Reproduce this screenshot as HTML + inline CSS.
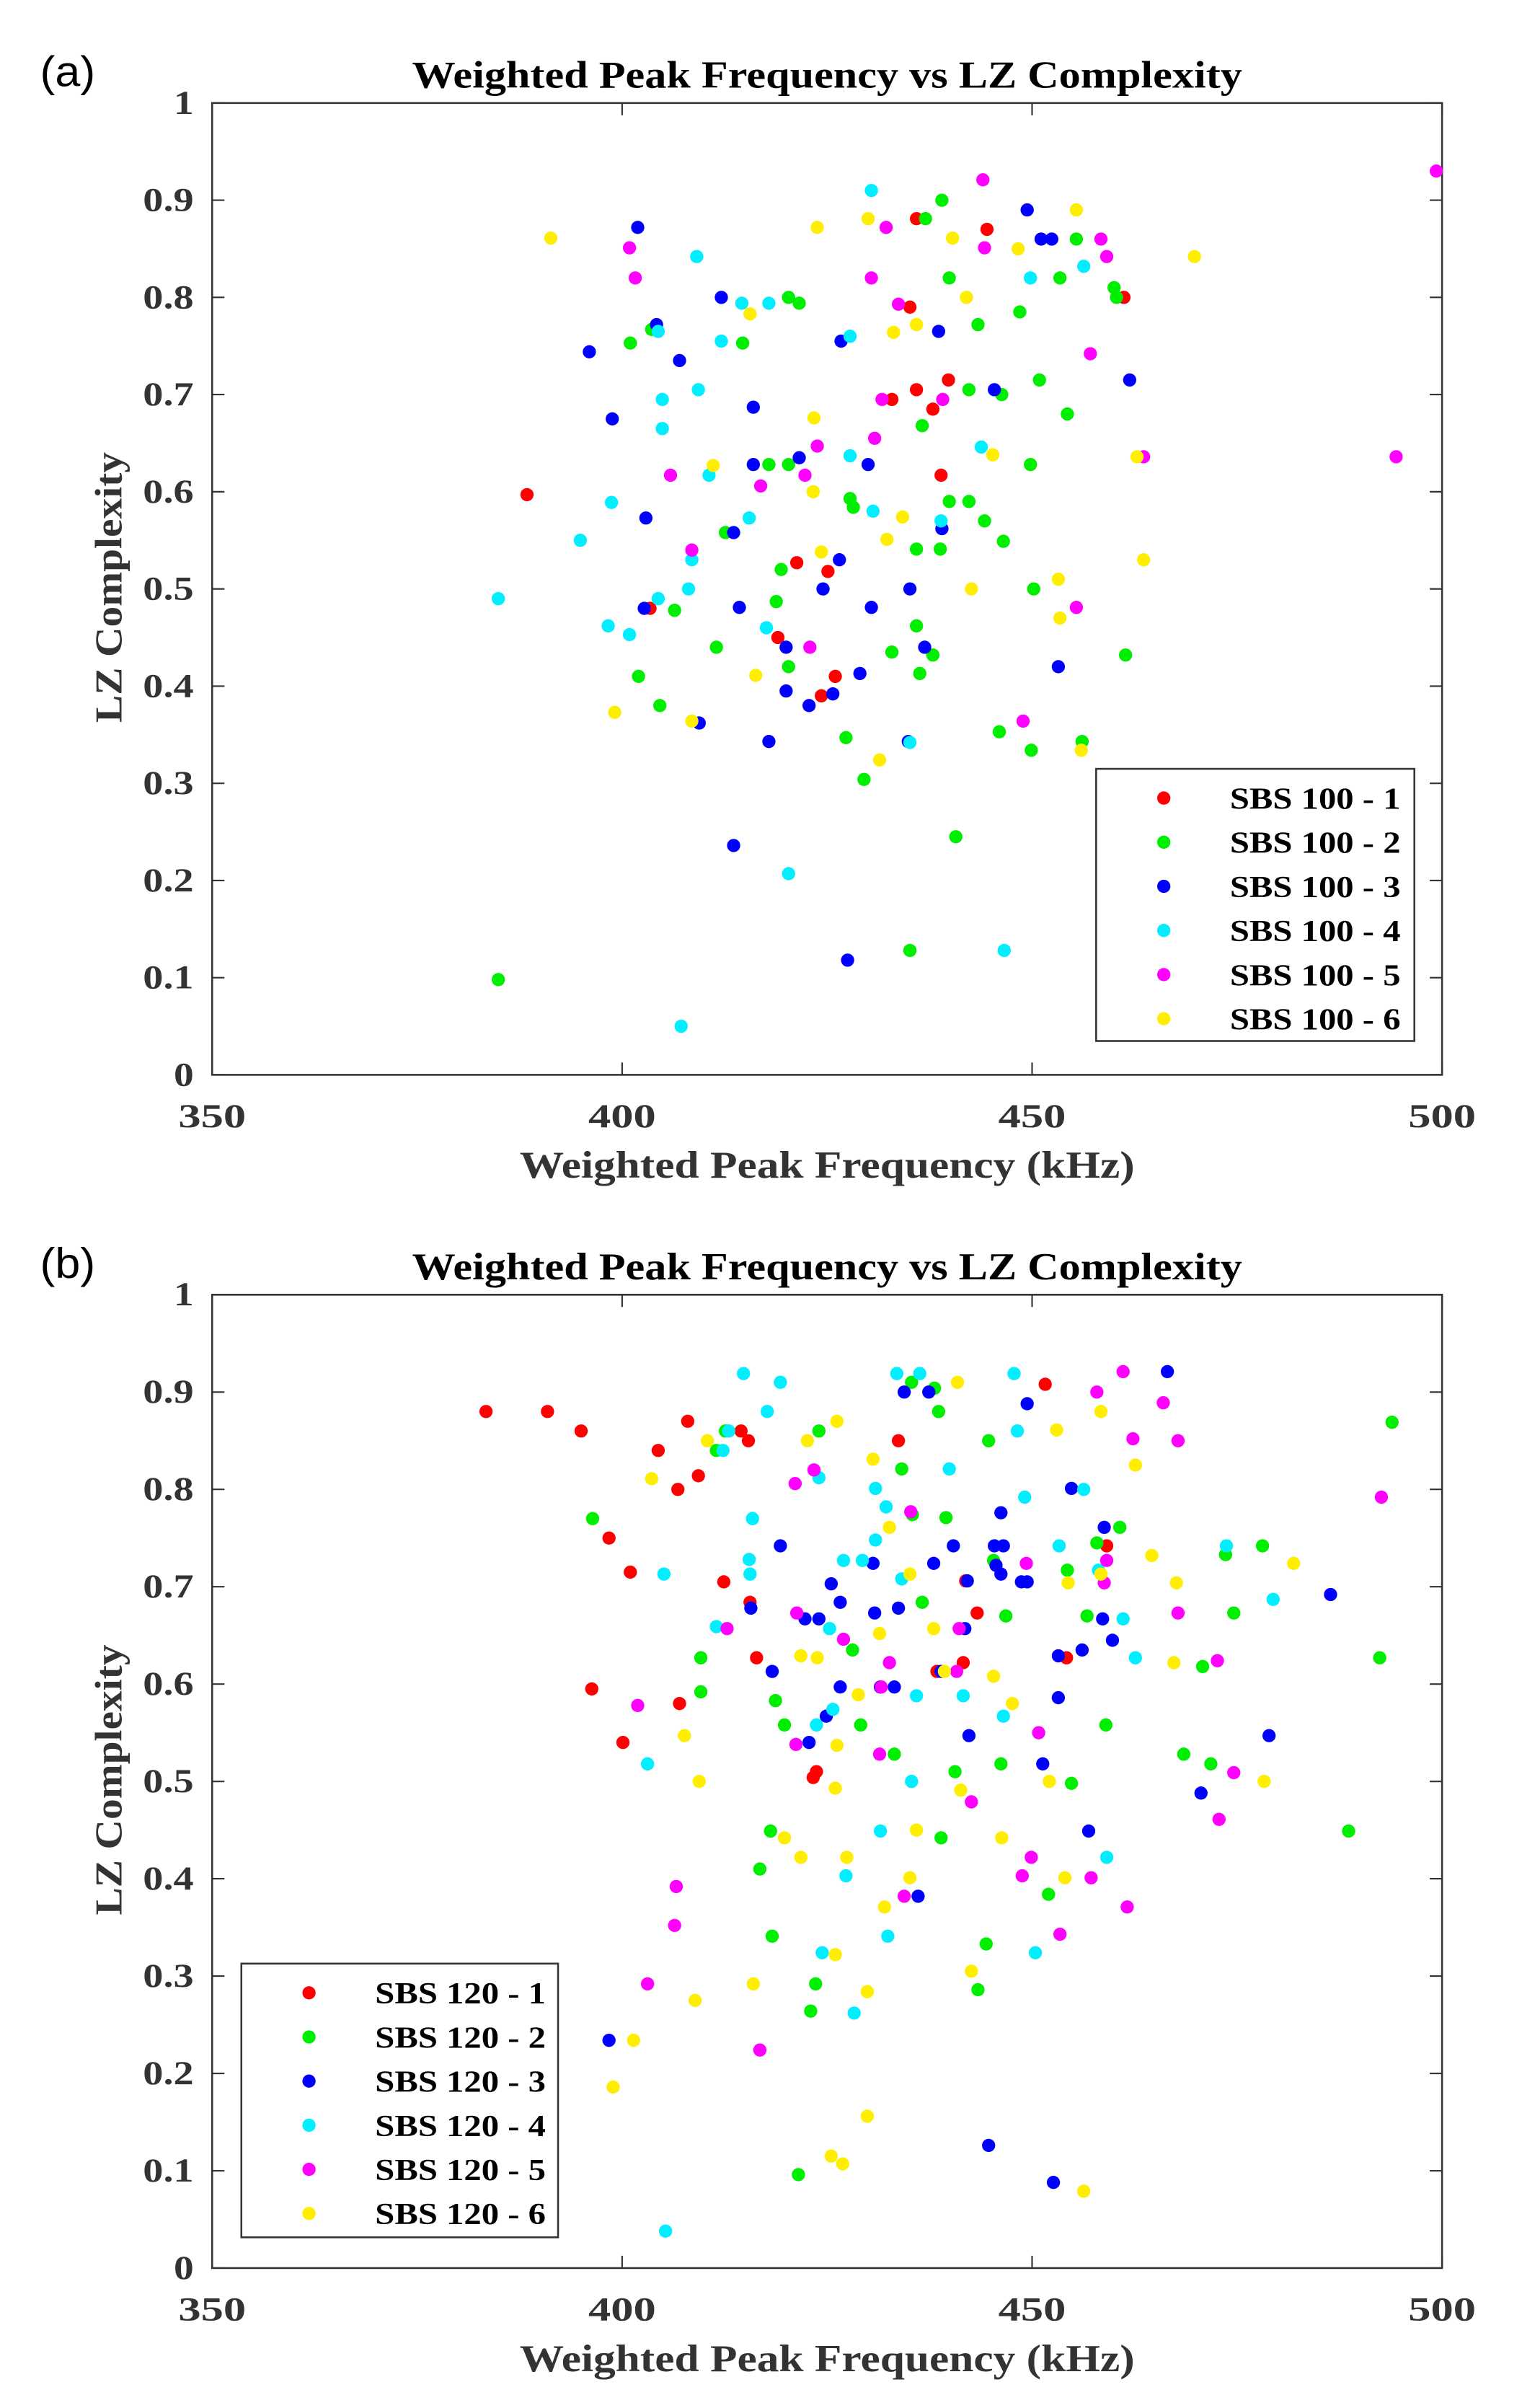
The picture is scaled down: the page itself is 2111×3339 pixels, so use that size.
<!DOCTYPE html>
<html><head><meta charset="utf-8"><style>
html,body{margin:0;padding:0;background:#fff;}
svg{display:block;}
text{font-family:"Liberation Serif",serif;font-weight:bold;fill:#333;}
</style></head><body>
<svg id="chart" xmlns="http://www.w3.org/2000/svg" width="2111" height="3339" viewBox="0 0 990 1566" preserveAspectRatio="none">
<rect x="0" y="0" width="990" height="1566" fill="#fff"/>
</svg>
<script>
// ---------- data ----------
const seriesColors = ["#ff0000","#00ee00","#0000ff","#00eeff","#ff00ff","#ffee00"];
const xTicks = [350,400,450,500];
const yTicks = [0,0.1,0.2,0.3,0.4,0.5,0.6,0.7,0.8,0.9,1];
const labelsA = ["SBS 100 - 1","SBS 100 - 2","SBS 100 - 3","SBS 100 - 4","SBS 100 - 5","SBS 100 - 6"];
const labelsB = ["SBS 120 - 1","SBS 120 - 2","SBS 120 - 3","SBS 120 - 4","SBS 120 - 5","SBS 120 - 6"];

const a1 = [[388.4,0.597],[435.9,0.881],[444.5,0.87],[461.2,0.80],[435.1,0.79],[435.9,0.705],[432.9,0.695],[437.9,0.685],[439.8,0.715],[438.9,0.617],[403.4,0.48],[421.3,0.527],[425.1,0.518],[419,0.45],[426,0.41],[424.3,0.39]];
const a2 = [[384.9,0.098],[401,0.753],[403.6,0.767],[402,0.41],[404.6,0.38],[406.4,0.478],[411.5,0.44],[412.6,0.558],[414.7,0.753],[417.9,0.628],[418.8,0.487],[419.4,0.52],[420.3,0.628],[420.3,0.80],[421.6,0.794],[420.3,0.42],[427.3,0.347],[427.8,0.593],[428.2,0.584],[429.5,0.304],[432.9,0.435],[435.1,0.128],[435.9,0.541],[435.9,0.462],[436.3,0.413],[436.6,0.668],[437,0.881],[437.9,0.432],[438.8,0.541],[439,0.90],[439.9,0.82],[439.9,0.59],[440.7,0.245],[442.3,0.705],[442.3,0.59],[443.4,0.772],[444.2,0.57],[446.3,0.70],[446.5,0.549],[448.5,0.785],[449.8,0.628],[450.2,0.5],[449.9,0.334],[446,0.353],[450.9,0.715],[453.4,0.82],[454.3,0.68],[455.4,0.86],[456.1,0.343],[460,0.81],[460.3,0.80],[461.4,0.432]];
const a3 = [[396,0.744],[398.8,0.675],[401.9,0.872],[402.7,0.48],[402.9,0.573],[404.2,0.772],[407,0.735],[409.4,0.362],[412.1,0.80],[413.6,0.558],[413.6,0.236],[414.3,0.481],[416,0.687],[416,0.628],[417.9,0.343],[420,0.395],[420,0.44],[421.6,0.635],[422.8,0.38],[424.5,0.50],[425.7,0.392],[426.5,0.53],[426.7,0.755],[427.5,0.118],[429,0.413],[430,0.628],[430.4,0.481],[435.1,0.50],[434.9,0.343],[436.9,0.44],[438.6,0.765],[439,0.562],[445.4,0.705],[449.4,0.89],[451.1,0.86],[452.4,0.86],[453.2,0.42],[461.9,0.715]];
const a4 = [[384.9,0.49],[394.9,0.55],[398.3,0.462],[398.7,0.589],[400.9,0.453],[404.4,0.765],[404.9,0.695],[404.9,0.665],[404.4,0.49],[407.2,0.05],[408.1,0.50],[408.5,0.53],[409.1,0.842],[409.3,0.705],[410.6,0.617],[412.1,0.755],[414.6,0.794],[415.5,0.573],[417.6,0.46],[417.9,0.794],[420.3,0.207],[427.8,0.76],[427.8,0.637],[430.4,0.91],[430.6,0.58],[435.1,0.342],[438.9,0.57],[443.8,0.646],[446.6,0.128],[449.8,0.82],[456.3,0.832]];
const a5 = [[400.9,0.851],[401.6,0.82],[405.9,0.617],[408.5,0.54],[416.9,0.606],[422.3,0.617],[422.9,0.44],[423.8,0.647],[430.4,0.82],[430.8,0.655],[431.7,0.695],[432.2,0.872],[433.7,0.793],[439.1,0.695],[444,0.921],[444.2,0.851],[448.9,0.364],[455.4,0.481],[457.1,0.742],[458.4,0.86],[459.1,0.842],[463.6,0.636],[494.4,0.636],[499.3,0.93]];
const a6 = [[391.3,0.861],[399.1,0.373],[408.5,0.364],[411.1,0.627],[415.6,0.783],[416.3,0.411],[423.3,0.60],[423.4,0.676],[423.8,0.872],[424.3,0.538],[430,0.881],[431.4,0.324],[432.3,0.551],[433.1,0.764],[434.2,0.574],[435.9,0.772],[440.3,0.861],[442,0.80],[442.6,0.50],[445.2,0.638],[448.3,0.85],[453.2,0.51],[453.4,0.47],[455.4,0.89],[456,0.334],[462.8,0.636],[463.6,0.53],[469.8,0.842]];

const b1 = [[383.4,0.88],[390.9,0.88],[395,0.86],[396.3,0.595],[398.4,0.75],[400.1,0.54],[401,0.715],[404.4,0.84],[406.8,0.80],[407,0.58],[408,0.87],[409.3,0.814],[412.4,0.705],[414.5,0.86],[415.4,0.85],[415.6,0.684],[416.4,0.627],[423.3,0.504],[423.7,0.51],[433.7,0.85],[438.4,0.613],[441.6,0.622],[441.9,0.706],[443.3,0.673],[451.6,0.908],[454.2,0.627],[459.1,0.742]];
const b2 = [[396.4,0.77],[409.6,0.627],[409.6,0.592],[411.5,0.84],[412.6,0.86],[416.8,0.41],[418.1,0.449],[418.3,0.341],[418.7,0.583],[419.8,0.558],[421.5,0.096],[423,0.264],[423.6,0.292],[424,0.86],[428.1,0.635],[429.1,0.558],[433.2,0.528],[434.1,0.821],[435.4,0.774],[435.3,0.91],[436.6,0.684],[438.1,0.904],[438.6,0.88],[438.9,0.442],[439.5,0.771],[440.6,0.51],[443.4,0.286],[444.4,0.333],[444.7,0.85],[445.3,0.727],[446.2,0.518],[446.8,0.67],[452,0.384],[454.3,0.717],[454.8,0.498],[456.7,0.67],[457.9,0.745],[459,0.558],[460.7,0.761],[468.5,0.528],[470.8,0.618],[471.8,0.518],[473.6,0.733],[474.6,0.673],[478.1,0.742],[488.6,0.449],[492.4,0.627],[493.9,0.869]];
const b3 = [[398.4,0.234],[415.7,0.678],[418.3,0.613],[419.3,0.742],[422.3,0.667],[422.8,0.54],[424,0.667],[424.9,0.567],[425.5,0.703],[426.6,0.684],[426.6,0.597],[430.6,0.724],[430.8,0.673],[431.5,0.597],[433.2,0.597],[433.7,0.678],[434.4,0.9],[436.1,0.382],[437.4,0.9],[438,0.724],[438.9,0.613],[440.4,0.742],[441.8,0.657],[442.1,0.706],[442.3,0.547],[444.7,0.126],[445.4,0.742],[445.6,0.722],[446.2,0.713],[446.5,0.742],[446.2,0.776],[448.7,0.705],[449.4,0.888],[449.4,0.705],[451.3,0.518],[452.6,0.088],[453.2,0.629],[453.2,0.586],[454.8,0.801],[456.1,0.635],[456.9,0.449],[458.6,0.667],[458.8,0.761],[459.8,0.645],[466.5,0.921],[470.6,0.488],[478.9,0.547],[486.4,0.692]];
const b4 = [[405.1,0.713],[403.1,0.518],[405.3,0.038],[411.5,0.659],[412.3,0.84],[413,0.86],[414.8,0.919],[415.5,0.728],[415.6,0.713],[415.9,0.77],[417.7,0.88],[419.3,0.91],[423.7,0.558],[424,0.812],[424.4,0.324],[425.3,0.657],[425.7,0.574],[427,0.727],[427.3,0.403],[428.3,0.262],[429.3,0.727],[430.9,0.801],[430.9,0.748],[431.5,0.449],[432.2,0.782],[432.4,0.341],[433.5,0.919],[434.1,0.708],[435.3,0.5],[435.9,0.588],[436.3,0.919],[439.9,0.821],[441.6,0.588],[446.5,0.567],[447.8,0.919],[448.2,0.86],[449.1,0.792],[450.4,0.324],[453.3,0.742],[456.3,0.8],[458.1,0.717],[459.1,0.422],[461.1,0.667],[462.6,0.627],[473.7,0.742],[479.4,0.687]];
const b5 = [[401.9,0.578],[403.1,0.292],[406.4,0.352],[406.6,0.392],[412.8,0.657],[416.8,0.224],[421.2,0.538],[421.1,0.806],[421.3,0.673],[423.4,0.82],[427,0.646],[431.4,0.528],[431.6,0.597],[432.6,0.622],[434.4,0.382],[435.2,0.777],[440.8,0.613],[441.1,0.657],[442.6,0.479],[449.3,0.724],[448.8,0.403],[449.9,0.422],[450.8,0.55],[453.4,0.343],[457.2,0.401],[457.9,0.9],[458.8,0.704],[459.1,0.727],[461.1,0.921],[461.6,0.371],[462.3,0.852],[466,0.889],[467.8,0.85],[467.8,0.673],[472.6,0.624],[472.8,0.461],[474.6,0.509],[492.6,0.792]];
const b6 = [[398.9,0.186],[401.4,0.234],[403.6,0.811],[407.6,0.547],[408.9,0.275],[409.4,0.5],[410.4,0.85],[416,0.292],[419.8,0.442],[421.8,0.629],[421.8,0.422],[422.6,0.85],[423.8,0.627],[425.5,0.115],[426,0.322],[426,0.493],[426.2,0.537],[426.2,0.87],[426.9,0.107],[427.4,0.422],[428.8,0.589],[429.9,0.156],[429.9,0.284],[430.6,0.831],[431.4,0.652],[432,0.371],[432.6,0.761],[435.1,0.713],[435.1,0.401],[435.9,0.45],[438,0.657],[439.3,0.613],[440.9,0.91],[441.3,0.491],[442.6,0.305],[445.3,0.608],[446.3,0.442],[447.6,0.58],[452.1,0.5],[453,0.861],[454,0.401],[454.4,0.704],[456.3,0.079],[458.4,0.88],[458.4,0.713],[462.6,0.825],[464.6,0.732],[467.3,0.622],[467.6,0.704],[478.3,0.5],[481.9,0.724]];

const panelASeries = [a1,a2,a3,a4,a5,a6];
const panelBSeries = [b1,b2,b3,b4,b5,b6];

// ---------- drawing ----------
const NS = "http://www.w3.org/2000/svg";
const svg = document.getElementById("chart");
function mk(tag, attrs, parent){
  const e = document.createElementNS(NS, tag);
  for (const k in attrs) e.setAttribute(k, attrs[k]);
  (parent||svg).appendChild(e);
  return e;
}
const L = 138, R = 938;
function drawPanel(tag, top, bottom, series, labels, legendBox){
  const g = mk("g", {});
  
  
  const xs = v => L + (v - 350) / 150 * (R - L);
  const ys = v => bottom - v * (bottom - top);
  const lbl = mk("text", {x: 26, y: top - 11, "font-size": 28, textLength: 36, lengthAdjust: "spacingAndGlyphs", style:"font-family:'Liberation Sans',sans-serif;font-weight:normal;fill:#000"}, g);
  lbl.textContent = "(" + tag + ")";
  
  
  const title = mk("text", {x: 538, y: top - 10, "text-anchor":"middle", "font-size": 25, textLength: 540, lengthAdjust: "spacingAndGlyphs", style:"fill:#000"}, g);
  title.textContent = "Weighted Peak Frequency vs LZ Complexity";
  
  
  const frame = mk("rect", {x: L, y: top, width: R - L, height: bottom - top, fill: "none", stroke: "#333", "stroke-width": 1.2}, g);
  
  
  xTicks.forEach(t => {
    const x = xs(t);
    mk("line", {x1:x, x2:x, y1:bottom, y2:bottom-8, stroke:"#333"}, g);
    mk("line", {x1:x, x2:x, y1:top, y2:top+8, stroke:"#333"}, g);
    const tx = mk("text", {x:x, y:bottom+34, "text-anchor":"middle", "font-size":22, textLength: 44, lengthAdjust: "spacingAndGlyphs"}, g);
    tx.textContent = t;
    
    
  });
  yTicks.forEach(t => {
    const y = ys(t);
    mk("line", {x1:L, x2:L+8, y1:y, y2:y, stroke:"#333"}, g);
    mk("line", {x1:R, x2:R-8, y1:y, y2:y, stroke:"#333"}, g);
    const s = String(t);
    const ty = mk("text", {x:L-12, y:y+7, "text-anchor":"end", "font-size":22, textLength: s.length > 1 ? 33 : 13, lengthAdjust: "spacingAndGlyphs"}, g);
    ty.textContent = s;
    
    
  });
  const xt = mk("text", {x:538, y:bottom+67, "text-anchor":"middle", "font-size":25, textLength: 400, lengthAdjust: "spacingAndGlyphs"}, g);
  xt.textContent = "Weighted Peak Frequency (kHz)";
  
  
  const cy = (top + bottom) / 2;
  const yt = mk("text", {x:0, y:0, "text-anchor":"middle", "font-size":25, textLength: 176, lengthAdjust: "spacingAndGlyphs", transform:"translate(79," + (cy - 1) + ") rotate(-90)"}, g);
  yt.textContent = "LZ Complexity";
  
  
  series.forEach((pts, si) => {
    const sg = mk("g", {fill: seriesColors[si]}, g);
    
    
    pts.forEach(p => {
      const c = mk("circle", {cx: xs(p[0]), cy: ys(p[1]), r: 4.3}, sg);
      
      
    });
  });
  const lg = mk("g", {}, g);
  
  
  mk("rect", {x:legendBox[0], y:legendBox[1], width:legendBox[2], height:legendBox[3], fill:"#fff", stroke:"#333", "stroke-width":1.2}, lg);
  labels.forEach((s, i) => {
    const ey = legendBox[1] + 19 + i * 28.7;
    const eg = mk("g", {}, lg);
    
    
    mk("circle", {cx: legendBox[0] + 44, cy: ey, r: 4.3, fill: seriesColors[i]}, eg);
    const t = mk("text", {x: legendBox[0] + 87, y: ey + 7, "font-size": 20, textLength: 111, lengthAdjust: "spacingAndGlyphs", style:"fill:#000"}, eg);
    t.textContent = s;
  });
}
drawPanel("a", 67, 699, panelASeries, labelsA, [713, 500, 207, 177]);
drawPanel("b", 842, 1475, panelBSeries, labelsB, [157, 1277, 206, 178]);
</script>
</body></html>
